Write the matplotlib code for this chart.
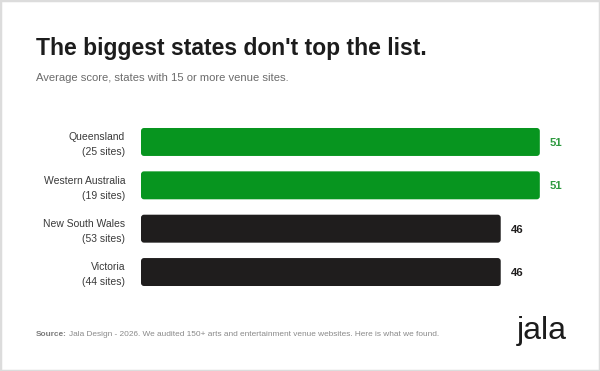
import matplotlib
matplotlib.use("Agg")
import matplotlib.pyplot as plt
from matplotlib.patches import FancyBboxPatch, Rectangle

states = ["Queensland", "Western Australia", "New South Wales", "Victoria"]
sites = [25, 19, 53, 44]
scores = [51, 51, 46, 46]
highlight = [True, True, False, False]

GREEN = "#07951f"
DARK = "#1f1d1d"
FONT = "Liberation Sans"

W, H = 600, 371
fig = plt.figure(figsize=(W / 100, H / 100), dpi=100)
fig.patch.set_facecolor("white")

# axes: x=0 at px 141, 7.82 px per unit; rows centered at 142 .. 272 px
x0_px, ppu = 141, 7.82
ax_w_px = 419
top_px, bot_px = 120.3, 293.7
ax = fig.add_axes([x0_px / W, (H - bot_px) / H, ax_w_px / W, (bot_px - top_px) / H])
ax.set_xlim(0, ax_w_px / ppu)
ax.set_ylim(len(states) - 0.5, -0.5)
ax.axis("off")

bar_h = 0.645
bars = ax.barh(range(len(states)), scores, height=bar_h,
               color=[GREEN if h else DARK for h in highlight])
# replace with rounded bars
rx = 3.0 / ppu
ry_per_unit = (bot_px - top_px) / len(states)
ry = 3.0 / ry_per_unit
for b, h in zip(bars, highlight):
    x, y = b.get_x(), b.get_y()
    w, hh = b.get_width(), b.get_height()
    b.set_visible(False)
    p = FancyBboxPatch((x, y), w, hh,
                       boxstyle=f"round,pad=0,rounding_size={rx}",
                       mutation_aspect=ry / rx,
                       facecolor=GREEN if h else DARK, edgecolor="none")
    ax.add_patch(p)

for i, (s, n, v, h) in enumerate(zip(states, sites, scores, highlight)):
    ax.text(-16 / ppu, i - 0.11, s, ha="right", va="center", fontsize=7.5,
            color="#3a3a3a", family=FONT, clip_on=False)
    ax.text(-16 / ppu, i + 0.24, f"({n} sites)", ha="right", va="center", fontsize=7.5,
            color="#3a3a3a", family=FONT, clip_on=False)
    ax.text(v + 10 / ppu, i + 0.02, f"{v}", ha="left", va="center", fontsize=8.2,
            fontweight="bold", color="#2f9a40" if h else DARK, family=FONT, clip_on=False)

fig.text(36 / W, 1 - 49 / H, "The biggest states don't top the list.", ha="left", va="center",
         fontsize=16.5, fontweight="bold", color="#1c1c1c", family=FONT)
fig.text(36 / W, 1 - 78 / H, "Average score, states with 15 or more venue sites.", ha="left",
         va="center", fontsize=8.15, color="#6b6b6b", family=FONT)

t = fig.text(36 / W, 1 - 335 / H, "Source:", ha="left", va="center", fontsize=5.95,
             fontweight="bold", color="#7a7a7a", family=FONT)
fig.canvas.draw()
bb = t.get_window_extent()
fig.text(bb.x1 / W + 2 / W, 1 - 335 / H,
         "Jala Design - 2026. We audited 150+ arts and entertainment venue websites. Here is what we found.",
         ha="left", va="center", fontsize=5.95, color="#8a8a8a", family=FONT)
fig.text(517 / W, 1 - 331 / H, "jala", ha="left", va="center", fontsize=23,
         color="#1c1c1c", family=FONT)

fig.add_artist(Rectangle((0, 0), 1, 1, transform=fig.transFigure, fill=False,
                         edgecolor="#dcdcdc", linewidth=2.5))

fig.savefig("out.png", dpi=100)
